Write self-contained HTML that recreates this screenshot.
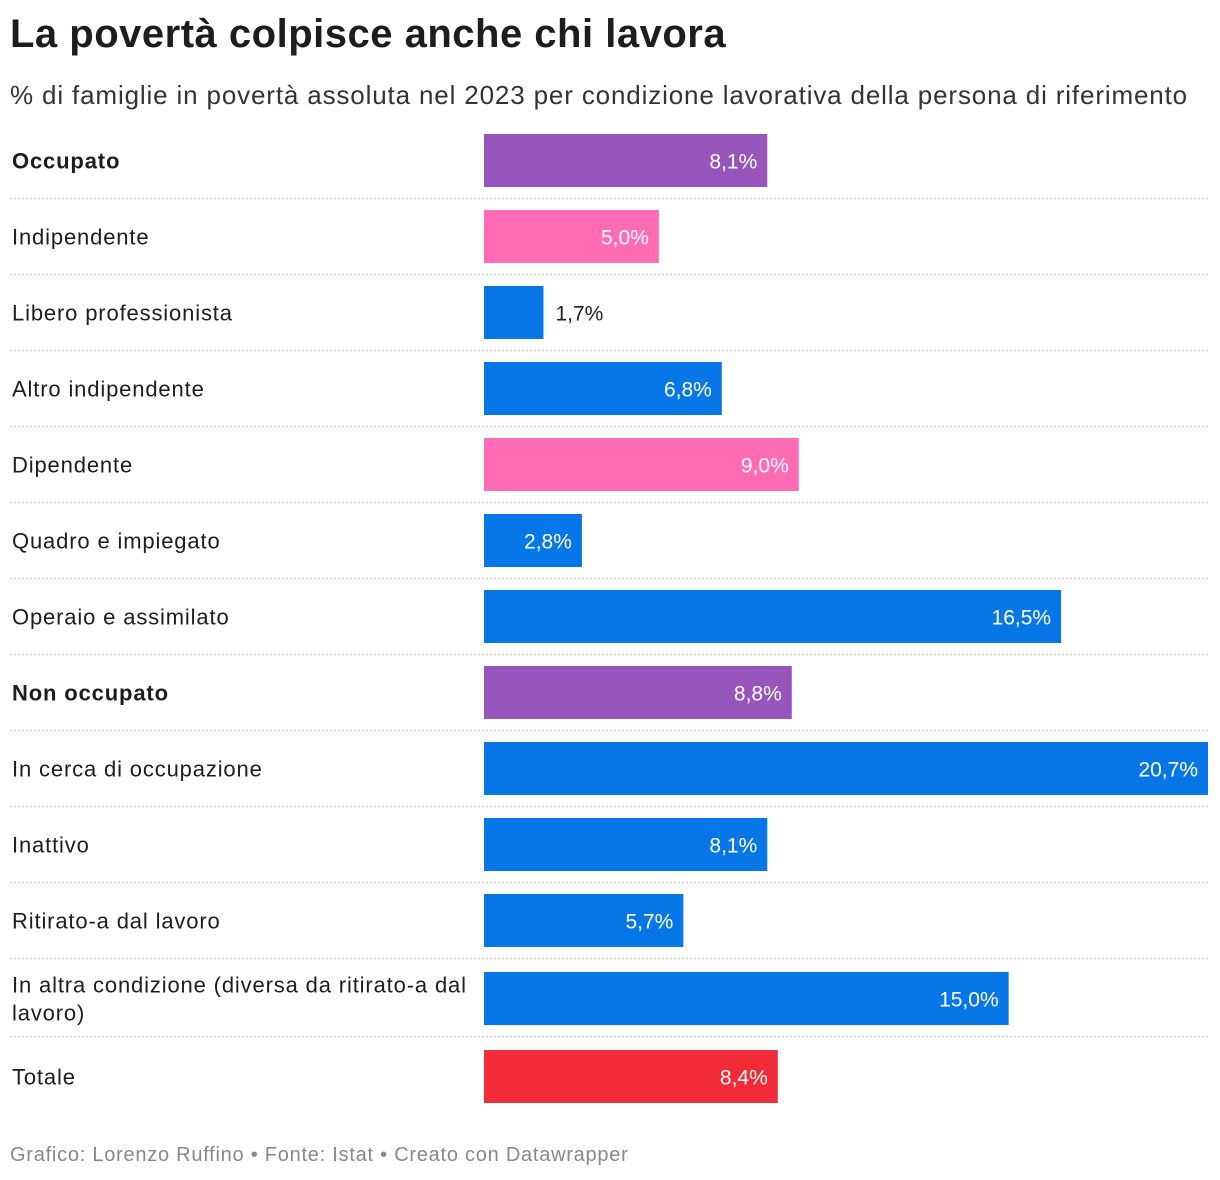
<!DOCTYPE html>
<html><head><meta charset="utf-8">
<style>
body{margin:0;background:#fff;width:1220px;height:1180px;overflow:hidden;font-family:"Liberation Sans",sans-serif;color:#1d1d1d}
#title{position:absolute;left:10px;top:12px;font-size:40px;font-weight:bold;letter-spacing:0.5px;margin:0}
#sub{position:absolute;left:10px;top:80px;font-size:26px;color:#333;letter-spacing:0.85px;white-space:nowrap}
#foot{position:absolute;left:10px;top:1144px;font-size:20px;color:#888;letter-spacing:0.75px}
</style></head><body>
<h1 id="title">La povertà colpisce anche chi lavora</h1>
<div id="sub">% di famiglie in povertà assoluta nel 2023 per condizione lavorativa della persona di riferimento</div>
<svg id="chart" width="1220" height="1180" style="position:absolute;left:0;top:0"></svg>
<div id="foot">Grafico: Lorenzo Ruffino • Fonte: Istat • Creato con Datawrapper</div>
<script>
const categories=["Occupato","Indipendente","Libero professionista","Altro indipendente","Dipendente","Quadro e impiegato","Operaio e assimilato","Non occupato","In cerca di occupazione","Inattivo","Ritirato-a dal lavoro","In altra condizione (diversa da ritirato-a dal lavoro)","Totale"];
const values=[8.1,5.0,1.7,6.8,9.0,2.8,16.5,8.8,20.7,8.1,5.7,15.0,8.4];
const groups=["main","sub","leaf","leaf","sub","leaf","leaf","main","leaf","leaf","leaf","leaf","total"];
const colorMap={main:"#9856bc",sub:"#ff6bb5",leaf:"#0777e8",total:"#f22b39"};
const svg=document.getElementById('chart');
const NS="http://www.w3.org/2000/svg";
const x0=484,x1=1208,maxV=20.7;
const xs=v=>v/maxV*(x1-x0);
function rowTop(i){return 134+i*76+(i>=11?(i-10)*2:0);}
categories.forEach((c,i)=>{
  const top=rowTop(i),h=53,cy=top+h/2;
  const w=xs(values[i]);
  const r=document.createElementNS(NS,'rect');
  r.setAttribute('x',x0);r.setAttribute('y',top);r.setAttribute('width',w);r.setAttribute('height',h);
  r.setAttribute('fill',colorMap[groups[i]]);
  
  
  svg.appendChild(r);
  const lab=document.createElementNS(NS,'text');
  lab.setAttribute('font-size','22');
  lab.setAttribute('letter-spacing','0.85');
  lab.setAttribute('fill','#1d1d1d');
  if(groups[i]==='main')lab.setAttribute('font-weight','bold');
  
  
  if(c.length>45){
    const a=document.createElementNS(NS,'tspan');a.setAttribute('x',12);a.setAttribute('y',cy-6);a.textContent="In altra condizione (diversa da ritirato-a dal";
    const b=document.createElementNS(NS,'tspan');b.setAttribute('x',12);b.setAttribute('y',cy+22);b.textContent="lavoro)";
    lab.appendChild(a);lab.appendChild(b);
  } else {lab.setAttribute('x',12);lab.setAttribute('y',cy+8);lab.textContent=c;}
  svg.appendChild(lab);
  const vt=document.createElementNS(NS,'text');
  vt.setAttribute('font-size','21');vt.setAttribute('y',cy+8);
  const txt=values[i].toFixed(1).replace('.',',')+'%';
  if(w<80){vt.setAttribute('x',x0+w+12);vt.setAttribute('fill','#1d1d1d');}
  else{vt.setAttribute('x',x0+w-10);vt.setAttribute('text-anchor','end');vt.setAttribute('fill','#fff');}
  vt.textContent=txt;
  
  
  svg.appendChild(vt);
  if(i<categories.length-1){
    const ln=document.createElementNS(NS,'line');
    const ly=top+h+11.5;
    ln.setAttribute('x1',10);ln.setAttribute('x2',1208);ln.setAttribute('y1',ly);ln.setAttribute('y2',ly);
    ln.setAttribute('stroke','#cfcfcf');ln.setAttribute('stroke-width','1.5');ln.setAttribute('stroke-dasharray','2,2');
    
    
    svg.appendChild(ln);
  }
});
</script>
</body></html>
